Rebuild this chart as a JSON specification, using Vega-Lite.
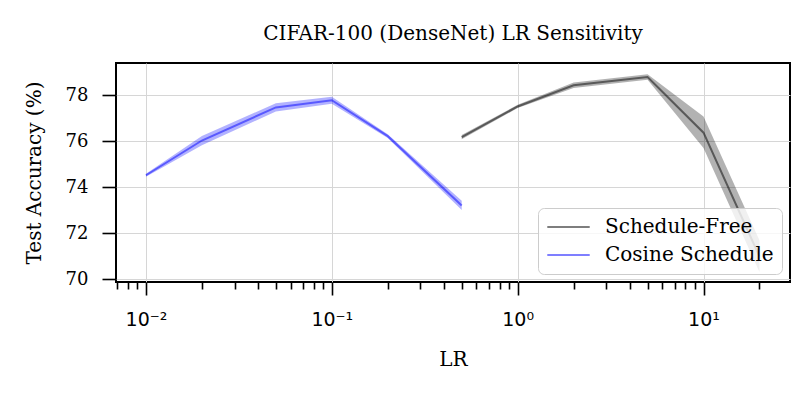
{
  "$schema": "https://vega.github.io/schema/vega-lite/v6.json",
  "autosize": "none",
  "width": 674,
  "height": 219,
  "padding": {"left": 116, "top": 63, "right": 22, "bottom": 124},
  "background": "white",
  "title": {
    "text": "CIFAR-100 (DenseNet) LR Sensitivity",
    "font": "DejaVu Serif",
    "fontSize": 20,
    "fontWeight": "normal",
    "color": "black",
    "baseline": "alphabetic",
    "offset": 3,
    "anchor": "middle"
  },
  "config": {
    "view": {"stroke": "black", "strokeWidth": 2},
    "axis": {
      "domain": false,
      "tickColor": "black",
      "tickWidth": 1.6,
      "labelColor": "black",
      "titleColor": "black",
      "titleFont": "DejaVu Serif",
      "titleFontWeight": "normal",
      "titleFontSize": 20,
      "gridColor": "#d6d6d6",
      "gridWidth": 1
    }
  },
  "data": {
    "values": [
      {"series": "Cosine Schedule", "lr": 0.01, "acc": 74.53, "lo": 74.46, "hi": 74.6},
      {"series": "Cosine Schedule", "lr": 0.02, "acc": 76.04, "lo": 75.84, "hi": 76.24},
      {"series": "Cosine Schedule", "lr": 0.05, "acc": 77.48, "lo": 77.3, "hi": 77.66},
      {"series": "Cosine Schedule", "lr": 0.1, "acc": 77.79, "lo": 77.64, "hi": 77.94},
      {"series": "Cosine Schedule", "lr": 0.2, "acc": 76.23, "lo": 76.15, "hi": 76.31},
      {"series": "Cosine Schedule", "lr": 0.5, "acc": 73.22, "lo": 73.02, "hi": 73.42},
      {"series": "Schedule-Free", "lr": 0.5, "acc": 76.19, "lo": 76.1, "hi": 76.28},
      {"series": "Schedule-Free", "lr": 1, "acc": 77.52, "lo": 77.45, "hi": 77.59},
      {"series": "Schedule-Free", "lr": 2, "acc": 78.44, "lo": 78.32, "hi": 78.56},
      {"series": "Schedule-Free", "lr": 5, "acc": 78.8, "lo": 78.68, "hi": 78.92},
      {"series": "Schedule-Free", "lr": 10, "acc": 76.38, "lo": 75.72, "hi": 77.08},
      {"series": "Schedule-Free", "lr": 20, "acc": 71.0, "lo": 70.32, "hi": 71.7}
    ]
  },
  "resolve": {"axis": {"x": "independent"}},
  "layer": [
    {
      "transform": [{"filter": "datum.series == 'Schedule-Free'"}],
      "mark": {"type": "area", "opacity": 0.3, "color": "black"},
      "encoding": {
        "x": {
          "field": "lr", "type": "quantitative",
          "scale": {"type": "log", "domain": [0.0069, 29.2], "nice": false},
          "axis": {
            "orient": "bottom",
            "values": [0.01, 0.1, 1, 10],
            "tickSize": 13,
            "grid": true,
            "labelFont": "DejaVu Sans",
            "labelFontSize": 19,
            "labelPadding": 15,
            "labelExpr": "round(log(datum.value)/LN10) == -2 ? '10⁻²' : round(log(datum.value)/LN10) == -1 ? '10⁻¹' : round(log(datum.value)/LN10) == 0 ? '10⁰' : '10¹'",
            "title": "LR",
            "titlePadding": 20
          }
        },
        "y": {
          "field": "lo", "type": "quantitative",
          "scale": {"domain": [69.89, 79.41], "nice": false, "zero": false},
          "axis": {
            "values": [70, 72, 74, 76, 78],
            "tickSize": 14,
            "grid": true,
            "labelFont": "DejaVu Serif",
            "labelFontSize": 18,
            "labelPadding": 14,
            "title": "Test Accuracy (%)",
            "titlePadding": 21
          }
        },
        "y2": {"field": "hi"}
      }
    },
    {
      "transform": [{"filter": "datum.series == 'Cosine Schedule'"}],
      "mark": {"type": "area", "opacity": 0.3, "color": "blue"},
      "encoding": {
        "x": {"field": "lr", "type": "quantitative", "axis": null},
        "y": {"field": "lo", "type": "quantitative"},
        "y2": {"field": "hi"}
      }
    },
    {
      "mark": {"type": "line", "opacity": 0.5, "strokeWidth": 2},
      "encoding": {
        "x": {
          "field": "lr", "type": "quantitative",
          "axis": {
            "orient": "bottom",
            "values": [0.007, 0.008, 0.009, 0.02, 0.03, 0.04, 0.05, 0.06, 0.07, 0.08, 0.09, 0.2, 0.3, 0.4, 0.5, 0.6, 0.7, 0.8, 0.9, 2, 3, 4, 5, 6, 7, 8, 9, 20],
            "tickSize": 7,
            "labels": false,
            "grid": false,
            "title": null
          }
        },
        "y": {"field": "acc", "type": "quantitative"},
        "color": {
          "field": "series", "type": "nominal",
          "scale": {"domain": ["Schedule-Free", "Cosine Schedule"], "range": ["black", "blue"]},
          "legend": {
            "title": null,
            "orient": "none",
            "legendX": 422,
            "legendY": 145,
            "padding": 8,
            "fillColor": "rgba(255,255,255,0.8)",
            "strokeColor": "#cccccc",
            "cornerRadius": 6,
            "symbolType": "stroke",
            "symbolSize": 1800,
            "symbolStrokeWidth": 2,
            "symbolOpacity": 0.5,
            "clipHeight": 22,
            "rowPadding": 6,
            "labelFont": "DejaVu Serif",
            "labelFontSize": 20,
            "labelLimit": 400,
            "labelColor": "black",
            "labelOffset": 14
          }
        }
      }
    }
  ]
}
